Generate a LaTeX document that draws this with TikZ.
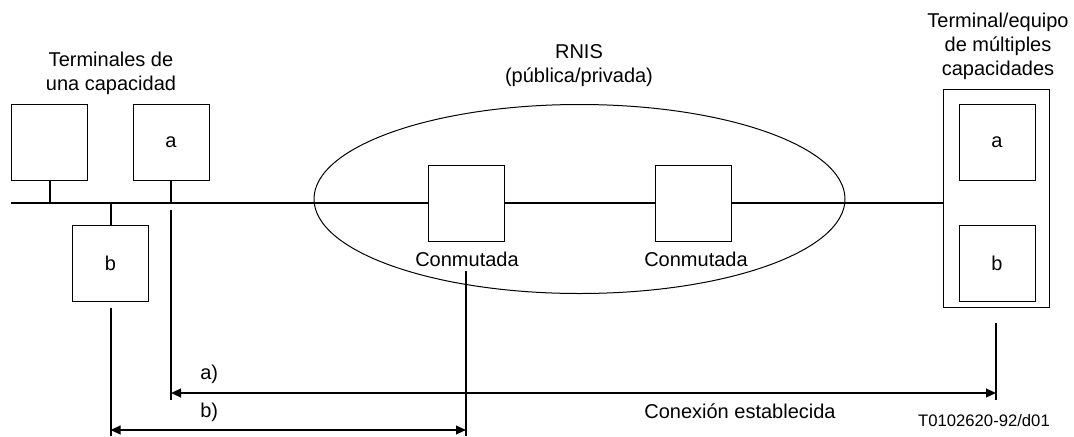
\documentclass[tikz,border=0pt]{standalone}
\usepackage{fontspec}
\setmainfont{Liberation Sans}
\usetikzlibrary{arrows.meta,shapes.geometric}
\begin{document}
\begin{tikzpicture}[x=0.75pt,y=-0.75pt,
  txt/.style={inner sep=0pt, align=center, font=\fontsize{15pt}{18pt}\selectfont},
  box/.style={draw, line width=0.75pt, minimum width=57pt, minimum height=57pt, inner sep=0pt, font=\fontsize{15pt}{18pt}\selectfont},
  wire/.style={line width=1.5pt},
  dimarrow/.style={line width=1.5pt, {Triangle[length=7.5pt,width=6.5pt]}-{Triangle[length=7.5pt,width=6.5pt]}}]
\useasboundingbox (0,0) rectangle (1074,436);

% ISDN cloud
\node[draw, ellipse, line width=0.75pt, minimum width=398.25pt, minimum height=141.75pt, inner sep=0pt] (rnis) at (579.5,199) {};

% single-capability terminals
\node[box] (t1) at (49.5,142) {};
\node[box] (ta) at (171,142) {a};
\node[box] (tb) at (110.5,263.5) {b};

% switches
\node[box] (sw1) at (466,203) {};
\node[box] (sw2) at (693,203) {};

% multi-capability equipment
\node[draw, line width=0.75pt, minimum width=79.5pt, minimum height=163.5pt, inner sep=0pt] (meq) at (996,198) {};
\node[box] (ma) at (997,142) {a};
\node[box] (mb) at (997,263.5) {b};

% bus
\coordinate (busL) at (11,203);
\coordinate (busB) at (110.5,203);
\draw[wire] (busL) -- (sw1.west);
\draw[wire] (sw1.east) -- (sw2.west);
\draw[wire] (sw2.east) -- (sw2.east -| meq.west);
\draw[wire] (t1.south) -- (t1.south |- busL);
\draw[wire] (ta.south) -- (ta.south |- busL);
\draw[wire] (busB) -- (tb.north);

% connection lines
\coordinate (aTop) at (171,210);
\coordinate (aBot) at (171,400);
\coordinate (aL) at (171,393);
\coordinate (rTop) at (996,323);
\coordinate (rBot) at (996,400);
\coordinate (aR) at (996,393);
\coordinate (bTop) at (110.5,308);
\coordinate (bBot) at (110.5,436);
\coordinate (bL) at (110.5,430);
\coordinate (cTop) at (466,271);
\coordinate (cBot) at (466,436);
\coordinate (bR) at (466,430);
\draw[wire] (aTop) -- (aBot);
\draw[wire] (rTop) -- (rBot);
\draw[wire] (bTop) -- (bBot);
\draw[wire] (cTop) -- (cBot);
\draw[dimarrow] (aL) -- (aR);
\draw[dimarrow] (bL) -- (bR);

% labels
\node[txt] (l1) at (111,73.5) {Terminales de\\una capacidad};
\node[txt] (l2) at (579,65.5) {RNIS\\(pública/privada)};
\node[txt] (l3) at (998,46) {Terminal/equipo\\de múltiples\\capacidades};
\node[txt] (c1) at (467,259) {Conmutada};
\node[txt] (c2) at (696,259) {Conmutada};
\node[txt, anchor=west] (la) at (200,374) {a)};
\node[txt, anchor=west] (lb) at (200,412) {b)};
\node[txt] (ce) at (740,411) {Conexión establecida};
\node[inner sep=0pt, font=\fontsize{12.5pt}{15pt}\selectfont] (ref) at (984,421) {T0102620-92/d01};
\end{tikzpicture}
\end{document}
